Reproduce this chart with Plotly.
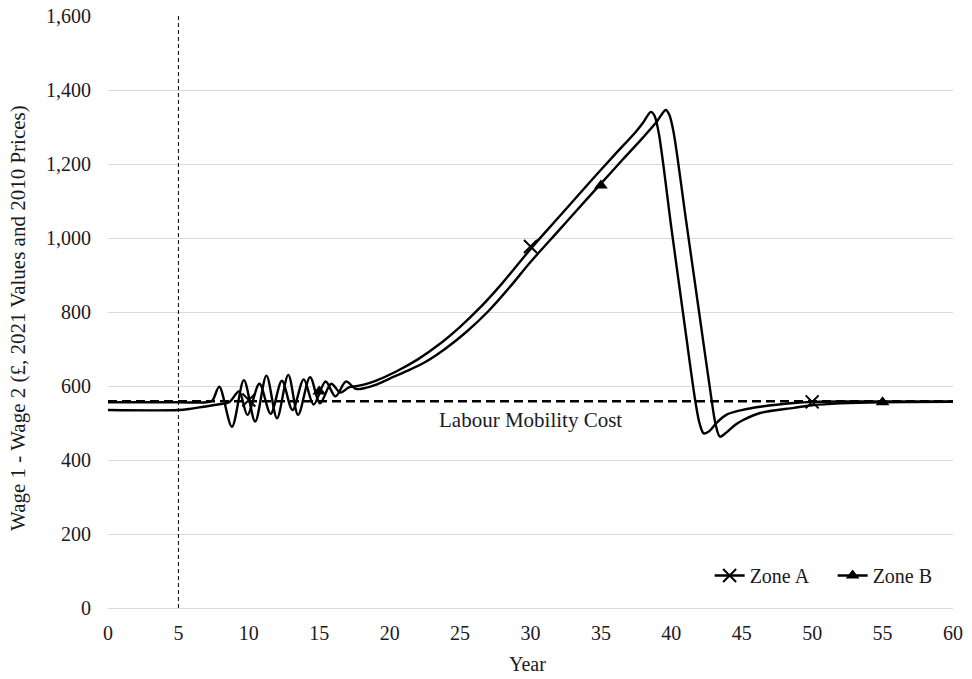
import plotly.graph_objects as go

# ---------------- data ----------------
ZONE_A_YEARS = [0, 5, 7.0, 7.4, 7.9, 8.8, 9.65, 10.45, 11.25, 12.0, 12.8, 13.5,
                14.35, 15.05, 15.85, 16.5, 17.1, 17.7, 18.3, 19.0, 20.5, 22.0,
                23.5, 25.0, 26.5, 28.0, 30.0, 32.0, 34.0, 36.0, 37.5, 38.0,
                38.3, 38.55, 38.8, 39.1, 40.0, 41.0, 41.7, 42.0, 42.3, 42.7, 43.2,
                43.9, 45.0, 46.3, 48.7, 50.0, 53.0, 56.0, 60.0]
ZONE_A_VALUES = [556, 556, 556, 560, 598, 490, 616, 504, 628, 513, 630, 522,
                 624, 553, 606, 582, 596, 600, 605, 614, 640, 672,
                 712, 760, 815, 878, 970, 1056, 1142, 1226, 1288, 1312,
                 1330, 1341, 1331, 1285, 1028, 750, 560, 500, 472, 478, 500,
                 522, 535, 544, 554, 557, 558, 558, 558]

ZONE_B_YEARS = [0, 5, 5.8, 6.8, 7.8, 8.6, 9.3, 9.9, 10.75, 11.55, 12.35, 13.1,
                13.9, 14.6, 15.45, 16.15, 16.9, 17.6, 18.3, 19.0, 20.0, 21.2,
                22.5, 24.0, 25.5, 27.0, 28.5, 30.0, 32.0, 34.0, 35.0, 36.5,
                38.0, 39.0, 39.35, 39.6, 39.85, 40.15, 41.0, 42.0, 42.86, 43.15,
                43.45, 43.9, 44.5, 45.1, 46.3, 48.7, 50.0, 52.0, 55.0, 60.0]
ZONE_B_VALUES = [535, 535, 538, 544, 550, 556, 585, 522, 606, 525, 614, 535,
                 618, 550, 612, 572, 612, 592, 595, 603, 620, 640,
                 664, 702, 748, 802, 866, 935, 1020, 1105, 1147, 1210,
                 1272, 1316, 1336, 1346, 1334, 1288, 1060, 792, 562, 495,
                 463, 474, 494, 508, 527, 541, 548, 553, 556, 557]

ZONE_A_MARKER_YEARS = [10, 30, 50]
ZONE_A_MARKER_VALUES = [562, 977, 557]
ZONE_B_MARKER_YEARS = [15, 35, 55]
ZONE_B_MARKER_VALUES = [585, 1142, 556]

MOBILITY_COST = 559
MOBILITY_YEARS = [0, 60]
POLICY_YEAR = 5

X_TICKS = list(range(0, 61, 5))
Y_TICKS = list(range(0, 1601, 200))

FONT = "Liberation Serif"
BLACK = "#000000"
TXT = "#1a1a1a"
FS = 20
LW = 2.4

fig = go.Figure()

fig.add_trace(go.Scatter(x=ZONE_A_YEARS, y=ZONE_A_VALUES, mode="lines",
                         line=dict(color=BLACK, width=LW, shape="spline", smoothing=0.9),
                         showlegend=False, hoverinfo="skip"))
fig.add_trace(go.Scatter(x=ZONE_B_YEARS, y=ZONE_B_VALUES, mode="lines",
                         line=dict(color=BLACK, width=LW, shape="spline", smoothing=0.9),
                         showlegend=False, hoverinfo="skip"))

fig.add_trace(go.Scatter(x=MOBILITY_YEARS, y=[MOBILITY_COST] * len(MOBILITY_YEARS),
                         mode="lines", line=dict(color=BLACK, width=2.5, dash="9px,5px"),
                         showlegend=False, hoverinfo="skip"))

fig.add_trace(go.Scatter(x=ZONE_A_MARKER_YEARS, y=ZONE_A_MARKER_VALUES, mode="markers",
                         marker=dict(symbol="x-thin", size=13, color=BLACK,
                                     line=dict(color=BLACK, width=2)),
                         showlegend=False))
fig.add_trace(go.Scatter(x=ZONE_B_MARKER_YEARS, y=ZONE_B_MARKER_VALUES, mode="markers",
                         marker=dict(symbol="triangle-up", size=12, color=BLACK),
                         showlegend=False))

# legend entries
fig.add_trace(go.Scatter(x=[None], y=[None], mode="lines+markers", name="Zone A",
                         line=dict(color=BLACK, width=LW),
                         marker=dict(symbol="x-thin", size=13, color=BLACK,
                                     line=dict(color=BLACK, width=2))))
fig.add_trace(go.Scatter(x=[None], y=[None], mode="lines+markers", name="Zone B",
                         line=dict(color=BLACK, width=LW),
                         marker=dict(symbol="triangle-up", size=12, color=BLACK)))

fig.add_shape(type="line", x0=POLICY_YEAR, x1=POLICY_YEAR, y0=0, y1=1, yref="paper",
              xref="x", line=dict(color=BLACK, width=1, dash="4px,3px"))

fig.add_annotation(x=30.0, y=MOBILITY_COST, yshift=-19, text="Labour Mobility Cost",
                   showarrow=False, font=dict(family=FONT, size=21, color=TXT))

fig.add_annotation(x=0.496, y=-0.094, xref="paper", yref="paper", text="Year",
                   showarrow=False, font=dict(family=FONT, size=FS, color=TXT),
                   xanchor="center", yanchor="middle")
fig.add_annotation(x=-0.1065, y=0.49, xref="paper", yref="paper",
                   text="Wage 1 - Wage 2 (£, 2021 Values and 2010 Prices)",
                   textangle=-90, showarrow=False,
                   font=dict(family=FONT, size=21, color=TXT),
                   xanchor="center", yanchor="middle")

fig.update_layout(
    width=972, height=679,
    margin=dict(l=108, r=19, t=16, b=71, autoexpand=False),
    paper_bgcolor="white", plot_bgcolor="white",
    font=dict(family=FONT, size=FS, color=TXT),
    showlegend=True,
    legend=dict(orientation="h", x=0.712, y=0.055, xanchor="left", yanchor="middle",
                bgcolor="rgba(0,0,0,0)", itemwidth=30, entrywidth=78,
                font=dict(family=FONT, size=FS, color=TXT)),
    xaxis=dict(range=[0, 60], tickvals=X_TICKS, showgrid=False, zeroline=False,
               showline=False, ticks="", ticklabelstandoff=11, automargin=False,
               tickfont=dict(family=FONT, size=FS, color=TXT)),
    yaxis=dict(range=[0, 1600], tickvals=Y_TICKS, tickformat=",", showgrid=True,
               gridcolor="#d9d9d9", gridwidth=1, zeroline=True,
               zerolinecolor="#d9d9d9", zerolinewidth=1, showline=False, ticks="",
               ticklabelstandoff=16, automargin=False,
               tickfont=dict(family=FONT, size=FS, color=TXT)),
)

fig.write_html("out.html")
